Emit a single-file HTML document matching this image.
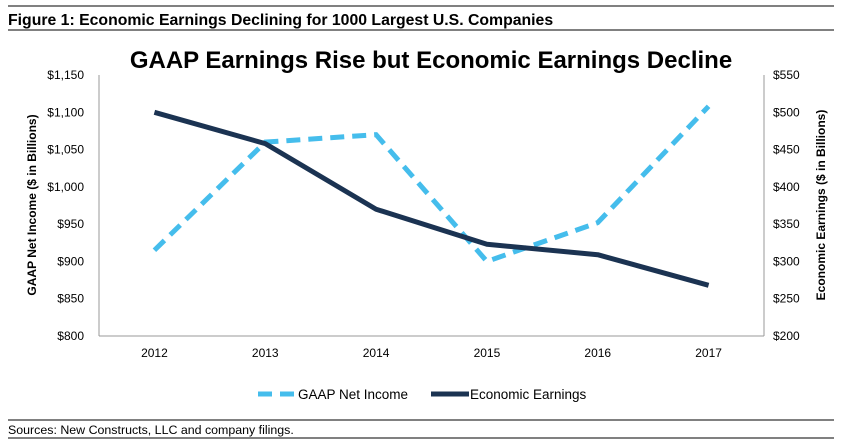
<!DOCTYPE html>
<html><head><meta charset="utf-8"><style>
body{margin:0;background:#fff;font-family:"Liberation Sans",Arial,sans-serif;}
#wrap{position:relative;width:841px;height:446px;overflow:hidden;}
</style></head><body>
<div id="wrap">
<svg id="chart" width="841" height="446"></svg>
</div>
<script>
const categories=["2012","2013","2014","2015","2016","2017"];
const gaapValues=[915,1060,1070,900,952,1108];
const econValues=[500,458,370,323,309,268];
const leftTicks=[800,850,900,950,1000,1050,1100,1150];
const rightTicks=[200,250,300,350,400,450,500,550];
const NS="http://www.w3.org/2000/svg";
const svg=document.getElementById('chart');
const X0=99,X1=764,YT=75,YB=336;
const xBand=(X1-X0)/categories.length;
function xPos(i){return X0+xBand*(i+0.5);}
function yL(v){return YB-(v-800)/350*(YB-YT);}
function yR(v){return YB-(v-200)/350*(YB-YT);}
function el(tag,attrs,name,text){const e=document.createElementNS(NS,tag);for(const k in attrs)e.setAttribute(k,attrs[k]);


if(text!==undefined)e.textContent=text;svg.appendChild(e);return e;}
function fmt(v){return '$'+v.toLocaleString('en-US');}
el('line',{x1:8,y1:6,x2:834,y2:6,stroke:'#000','stroke-width':1},'top-rule');
el('text',{x:8,y:25,'font-size':15.8,'font-weight':'bold',fill:'#000'},'figure-caption','Figure 1: Economic Earnings Declining for 1000 Largest U.S. Companies');
el('line',{x1:8,y1:30,x2:834,y2:30,stroke:'#000','stroke-width':1},'caption-rule');
el('text',{x:431,y:68,'font-size':24,'font-weight':'bold','text-anchor':'middle',fill:'#000'},'chart-title','GAAP Earnings Rise but Economic Earnings Decline');
el('line',{x1:X0,y1:YT,x2:X0,y2:YB,stroke:'#999'},'left-axis-line');
el('line',{x1:X1,y1:YT,x2:X1,y2:YB,stroke:'#999'},'right-axis-line');
el('line',{x1:X0,y1:YB,x2:X1,y2:YB,stroke:'#999'},'x-axis-line');
leftTicks.forEach(v=>el('text',{x:84,y:yL(v)+4,'font-size':12,'text-anchor':'end',fill:'#000'},'left-tick-label',fmt(v)));
rightTicks.forEach(v=>el('text',{x:773,y:yR(v)+4,'font-size':12,fill:'#000'},'right-tick-label',fmt(v)));
categories.forEach((c,i)=>el('text',{x:xPos(i),y:357,'font-size':12,'text-anchor':'middle',fill:'#000'},'x-tick-label',c));
el('text',{transform:'translate(36,205) rotate(-90)','font-size':12,'font-weight':'bold','text-anchor':'middle',fill:'#000'},'left-axis-title','GAAP Net Income ($ in Billions)');
el('text',{transform:'translate(825,205) rotate(-90)','font-size':12,'font-weight':'bold','text-anchor':'middle',fill:'#000'},'right-axis-title','Economic Earnings ($ in Billions)');
el('polyline',{points:gaapValues.map((v,i)=>xPos(i)+','+yL(v)).join(' '),fill:'none',stroke:'#45bdec','stroke-width':5,'stroke-dasharray':'14,8'},'gaap-net-income-line');
el('polyline',{points:econValues.map((v,i)=>xPos(i)+','+yR(v)).join(' '),fill:'none',stroke:'#1b3352','stroke-width':5,'stroke-linejoin':'round'},'economic-earnings-line');
el('line',{x1:258,y1:394,x2:296,y2:394,stroke:'#45bdec','stroke-width':5,'stroke-dasharray':'14,8'},'legend-gaap-swatch');
el('text',{x:298,y:399,'font-size':13.5,fill:'#000'},'legend-gaap-label','GAAP Net Income');
el('line',{x1:431,y1:394,x2:469,y2:394,stroke:'#1b3352','stroke-width':5},'legend-econ-swatch');
el('text',{x:470,y:399,'font-size':13.5,fill:'#000'},'legend-econ-label','Economic Earnings');
el('line',{x1:8,y1:420,x2:834,y2:420,stroke:'#000'},'source-rule-top');
el('text',{x:8,y:434,'font-size':12.4,fill:'#000'},'source-note','Sources: New Constructs, LLC and company filings.');
el('line',{x1:8,y1:438,x2:834,y2:438,stroke:'#000'},'source-rule-bottom');
</script>
</body></html>
